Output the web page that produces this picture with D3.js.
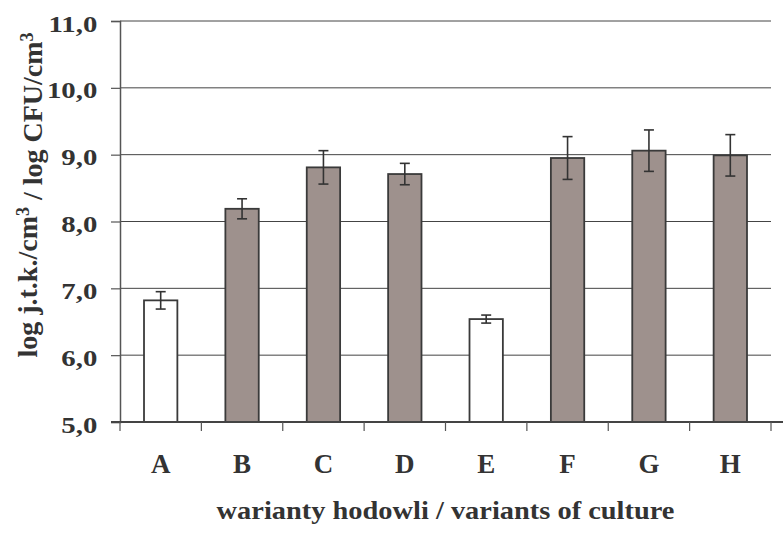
<!DOCTYPE html>
<html>
<head>
<meta charset="utf-8">
<script src="https://cdn.jsdelivr.net/npm/d3@7"></script>
<style>
  body { margin: 0; background: #fff; }
  text { font-family: 'Liberation Serif', 'Times New Roman', serif; font-weight: bold; fill: #333; }
</style>
</head>
<body>
<div id="chart"></div>
<script>
var w = 783;
var h = 534;

// data
var variants = ['A', 'B', 'C', 'D', 'E', 'F', 'G', 'H'];
var means = [6.82, 8.19, 8.81, 8.71, 6.54, 8.95, 9.06, 8.99];
var errors = [0.13, 0.15, 0.25, 0.16, 0.06, 0.32, 0.31, 0.31];
var control = [true, false, false, false, true, false, false, false];
var yTicks = [5, 6, 7, 8, 9, 10, 11];

var plotLeft = 120, plotRight = 771, plotTop = 21, plotBottom = 422;
var stretch = 1.2; // the original lettering is a bit wide

var svg = d3.select('#chart')
  .append('svg')
  .attr('width', w)
  .attr('height', h);

var x = d3.scaleBand()
  .domain(variants)
  .range([plotLeft, plotRight])
  .padding(0);

var y = d3.scaleLinear()
  .domain([5, 11])
  .range([plotBottom, plotTop]);

var fmt = function (d) { return d3.format('.1f')(d).replace('.', ','); };

// gridlines
svg.append('g')
  .selectAll('line')
  .data(yTicks.filter(function (d) { return d > 5; }))
  .enter()
  .append('line')
  .attr('x1', plotLeft)
  .attr('x2', plotRight)
  .attr('y1', function (d) { return y(d); })
  .attr('y2', function (d) { return y(d); })
  .style('stroke', '#444')
  .style('stroke-width', 1);

// y axis
var yAxis = svg.append('g')
  .attr('transform', 'translate(' + plotLeft + ',0)')
  .call(d3.axisLeft(y).tickValues(yTicks).tickFormat(fmt).tickSize(9));
yAxis.select('.domain').style('stroke', '#555').style('stroke-width', 1.5);
yAxis.selectAll('.tick line').style('stroke', '#555').style('stroke-width', 1.2);
yAxis.selectAll('.tick text')
  .style('font-size', '24px')
  .style('font-family', "'Liberation Serif', serif")
  .style('fill', '#333')
  .attr('x', -22.7 / stretch)
  .attr('dy', '0.42em')
  .attr('transform', 'scale(' + stretch + ',1)');

// bars
var barW = x.bandwidth() * 0.41;
svg.append('g')
  .selectAll('rect')
  .data(variants)
  .enter()
  .append('rect')
  .attr('x', function (d) { return x(d) + (x.bandwidth() - barW) / 2; })
  .attr('y', function (d, i) { return y(means[i]); })
  .attr('width', barW)
  .attr('height', function (d, i) { return y(5) - y(means[i]); })
  .style('fill', function (d, i) { return control[i] ? '#fff' : '#9e918d'; })
  .style('stroke', '#3a3a3a')
  .style('stroke-width', 1.8);

// error bars
var eb = svg.append('g')
  .selectAll('g')
  .data(variants)
  .enter()
  .append('g')
  .attr('transform', function (d) { return 'translate(' + (x(d) + x.bandwidth() / 2) + ',0)'; });
eb.append('line')
  .attr('y1', function (d, i) { return y(means[i] + errors[i]); })
  .attr('y2', function (d, i) { return y(means[i] - errors[i]); })
  .style('stroke', '#333').style('stroke-width', 1.6);
eb.append('line')
  .attr('x1', -5).attr('x2', 5)
  .attr('y1', function (d, i) { return y(means[i] + errors[i]); })
  .attr('y2', function (d, i) { return y(means[i] + errors[i]); })
  .style('stroke', '#333').style('stroke-width', 1.6);
eb.append('line')
  .attr('x1', -5).attr('x2', 5)
  .attr('y1', function (d, i) { return y(means[i] - errors[i]); })
  .attr('y2', function (d, i) { return y(means[i] - errors[i]); })
  .style('stroke', '#333').style('stroke-width', 1.6);

// x axis
svg.append('line')
  .attr('x1', plotLeft - 9).attr('x2', w)
  .attr('y1', plotBottom).attr('y2', plotBottom)
  .style('stroke', '#444').style('stroke-width', 2);
svg.append('g')
  .selectAll('line')
  .data(variants.concat(['end']))
  .enter()
  .append('line')
  .attr('x1', function (d, i) { return plotLeft + i * x.step(); })
  .attr('x2', function (d, i) { return plotLeft + i * x.step(); })
  .attr('y1', plotBottom)
  .attr('y2', plotBottom + 9)
  .style('stroke', '#555').style('stroke-width', 1.2);
svg.append('g')
  .selectAll('text')
  .data(variants)
  .enter()
  .append('text')
  .attr('x', function (d) { return x(d) + x.bandwidth() / 2; })
  .attr('y', 473)
  .attr('text-anchor', 'middle')
  .style('font-size', '27px')
  .text(function (d) { return d; });

// axis titles
svg.append('text')
  .attr('transform', 'translate(' + (plotLeft + plotRight) / 2 + ',519) scale(1.16,1)')
  .attr('text-anchor', 'middle')
  .style('font-size', '24.5px')
  .text('warianty hodowli / variants of culture');

var yt = svg.append('text')
  .attr('transform', 'translate(37,195) rotate(-90)')
  .attr('text-anchor', 'middle')
  .style('font-size', '28px');
yt.append('tspan').text('log j.t.k./cm');
yt.append('tspan').attr('dy', '-0.45em').style('font-size', '18px').text('3');
yt.append('tspan').attr('dy', '0.45em').text(' / log CFU/cm');
yt.append('tspan').attr('dy', '-0.45em').style('font-size', '18px').text('3');
</script>
</body>
</html>
